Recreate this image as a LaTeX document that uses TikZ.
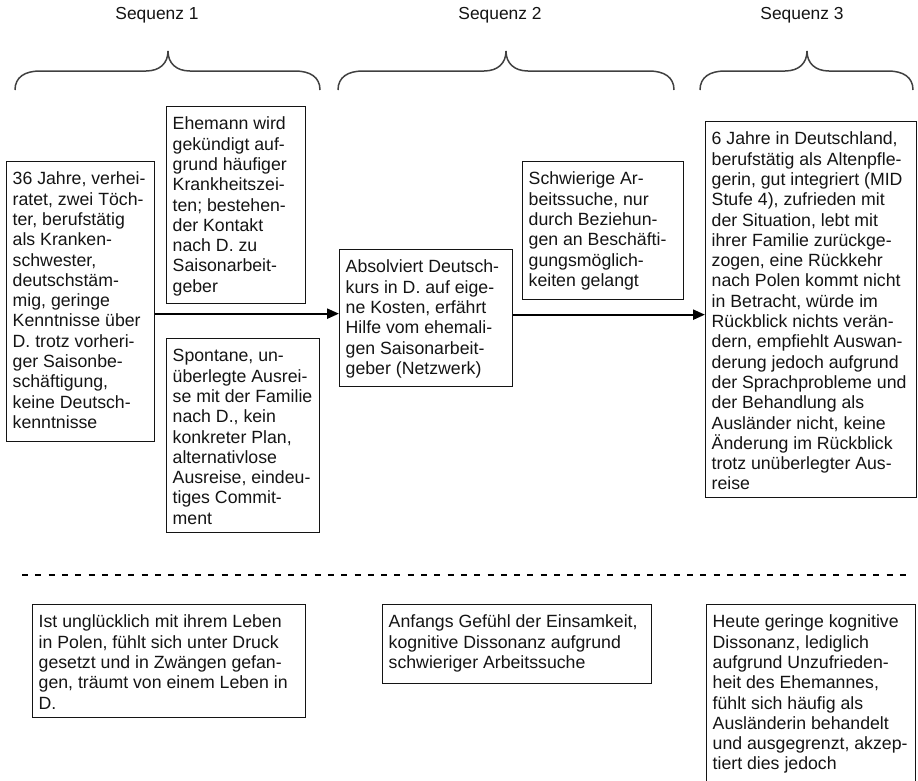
\documentclass[tikz,border=0pt]{standalone}
\usepackage{fontspec}
\setmainfont{Liberation Sans}
\usetikzlibrary{arrows.meta,calc}
\definecolor{inkc}{HTML}{141414}
\definecolor{bracec}{HTML}{404040}
\tikzset{
  boxn/.style={draw=inkc, line width=1.3pt, inner sep=0pt, anchor=north west},
  txt/.style={anchor=north west, align=left, inner xsep=6.5pt, inner ysep=9.4pt,
              text=inkc, font=\fontsize{17.7}{20.3}\selectfont},
  seq/.style={text=inkc, font=\fontsize{17.4}{20}\selectfont, inner sep=0pt},
  arr/.style={draw=black, line width=2.3pt, -{Triangle[length=12pt,width=10pt]}},
  bracel/.style={draw=bracec, line width=1.5pt},
  dashl/.style={draw=black, line width=2pt, dash pattern=on 6pt off 7.3pt}
}
\newcommand\mybrace[3]{% left x, tip x, right x
  \draw[bracel] (#1,90) .. controls (#1,77) and ({#1+10},71) .. ({#1+25},71)
     -- ({#2-22},71) .. controls ({#2-8},71) and (#2,63) .. (#2,51)
     .. controls (#2,63) and ({#2+8},71) .. ({#2+22},71)
     -- ({#3-25},71) .. controls ({#3-10},71) and (#3,77) .. (#3,90);}
\begin{document}
\begin{tikzpicture}[x=1pt,y=-1pt]
\useasboundingbox (0,0) rectangle (918,780);
\clip (0,0) rectangle (918,780);

% sequence labels
\node[seq] (S1) at (157,15) {Sequenz 1};
\node[seq] (S2) at (500,15) {Sequenz 2};
\node[seq] (S3) at (802,15) {Sequenz 3};

% braces
\mybrace{15}{168}{320}
\mybrace{338}{506}{674}
\mybrace{700}{807}{913}

% boxes
\node[boxn, minimum width=148pt, minimum height=280pt] (A) at (6,161) {};
\node[boxn, minimum width=139pt, minimum height=197pt] (B) at (166,106) {};
\node[boxn, minimum width=153pt, minimum height=194pt] (C) at (166,338) {};
\node[boxn, minimum width=173pt, minimum height=137pt] (D) at (339,249) {};
\node[boxn, minimum width=161pt, minimum height=138pt] (E) at (522,161) {};
\node[boxn, minimum width=211pt, minimum height=376pt] (F) at (705,121) {};
\node[boxn, minimum width=273pt, minimum height=113pt] (G) at (32,604) {};
\node[boxn, minimum width=269pt, minimum height=79pt] (H) at (382,604) {};
\node[boxn, minimum width=209pt, minimum height=200pt] (I) at (706,604) {};

% texts
\node[txt] (At) at (A.north west) {\strut 36 Jahre, verhei-\\ratet, zwei Töch-\\ter, berufstätig\\als Kranken-\\schwester,\\deutschstäm-\\mig, geringe\\Kenntnisse über\\D. trotz vorheri-\\ger Saisonbe-\\schäftigung,\\keine Deutsch-\\kenntnisse};
\node[txt] (Bt) at (B.north west) {\strut Ehemann wird\\gekündigt auf-\\grund häufiger\\Krankheitszei-\\ten; bestehen-\\der Kontakt\\nach D. zu\\Saisonarbeit-\\geber};
\node[txt] (Ct) at (C.north west) {\strut Spontane, un-\\überlegte Ausrei-\\se mit der Familie\\nach D., kein\\konkreter Plan,\\alternativlose\\Ausreise, eindeu-\\tiges Commit-\\ment};
\node[txt] (Dt) at (D.north west) {\strut Absolviert Deutsch-\\kurs in D. auf eige-\\ne Kosten, erfährt\\Hilfe vom ehemali-\\gen Saisonarbeit-\\geber (Netzwerk)};
\node[txt] (Et) at (E.north west) {\strut Schwierige Ar-\\beitssuche, nur\\durch Beziehun-\\gen an Beschäfti-\\gungsmöglich-\\keiten gelangt};
\node[txt] (Ft) at (F.north west) {\strut 6 Jahre in Deutschland,\\berufstätig als Altenpfle-\\gerin, gut integriert (MID\\Stufe 4), zufrieden mit\\der Situation, lebt mit\\ihrer Familie zurückge-\\zogen, eine Rückkehr\\nach Polen kommt nicht\\in Betracht, würde im\\Rückblick nichts verän-\\dern, empfiehlt Auswan-\\derung jedoch aufgrund\\der Sprachprobleme und\\der Behandlung als\\Ausländer nicht, keine\\Änderung im Rückblick\\trotz unüberlegter Aus-\\reise};
\node[txt] (Gt) at (G.north west) {\strut Ist unglücklich mit ihrem Leben\\in Polen, fühlt sich unter Druck\\gesetzt und in Zwängen gefan-\\gen, träumt von einem Leben in\\D.};
\node[txt] (Ht) at (H.north west) {\strut Anfangs Gefühl der Einsamkeit,\\kognitive Dissonanz aufgrund\\schwieriger Arbeitssuche};
\node[txt] (It) at (I.north west) {\strut Heute geringe kognitive\\Dissonanz, lediglich\\aufgrund Unzufrieden-\\heit des Ehemannes,\\fühlt sich häufig als\\Ausländerin behandelt\\und ausgegrenzt, akzep-\\tiert dies jedoch};

% arrows
\coordinate (a1) at ([yshift=-12pt]A.east);
\coordinate (a2) at ([yshift=3.5pt]D.east);
\draw[arr] (a1) -- (a1 -| D.west);
\draw[arr] (a2) -- (a2 -| F.west);

% dashed separator
\coordinate (d1) at (22,575);
\coordinate (d2) at (906,575);
\draw[dashl] (d1) -- (d2);
\end{tikzpicture}
\end{document}
